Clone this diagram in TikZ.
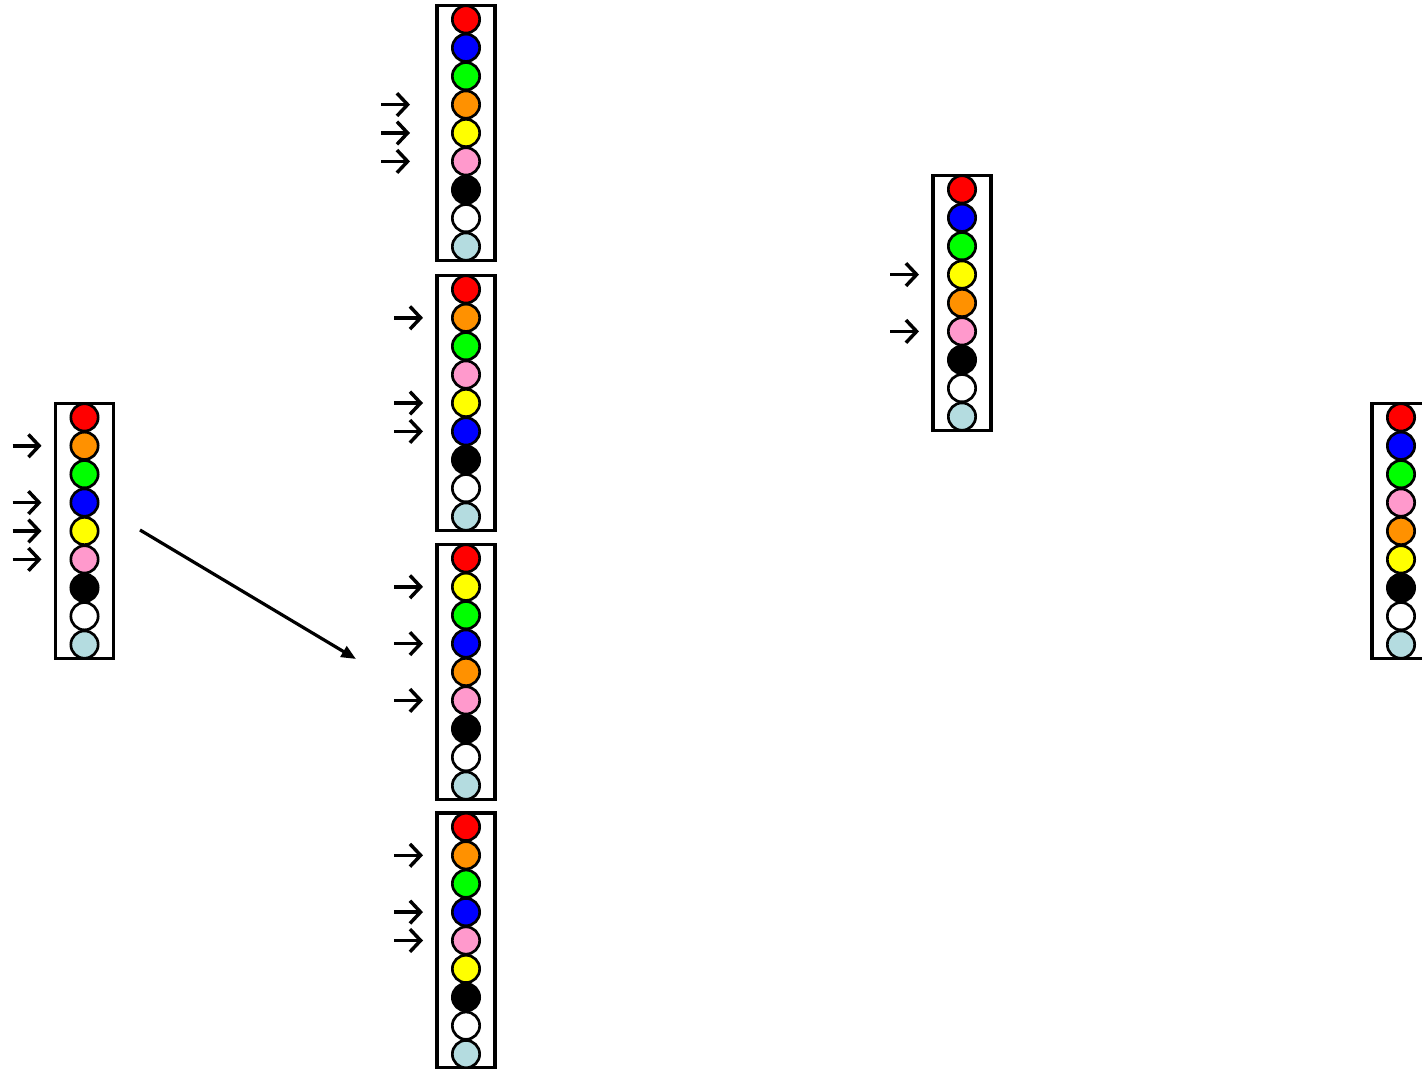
\documentclass[tikz,border=0pt]{standalone}
\usetikzlibrary{arrows.meta,calc}
\definecolor{cred}{RGB}{255,0,0}
\definecolor{cblue}{RGB}{0,0,255}
\definecolor{cgreen}{RGB}{0,255,0}
\definecolor{corange}{RGB}{255,145,0}
\definecolor{cyellow}{RGB}{255,255,0}
\definecolor{cpink}{RGB}{255,153,204}
\definecolor{cblack}{RGB}{0,0,0}
\definecolor{cwhite}{RGB}{255,255,255}
\definecolor{clblue}{RGB}{180,220,224}
\tikzset{
  colbox/.style={draw=black, line width=2.7pt, fill=white, minimum width=43.5pt, minimum height=191pt, inner sep=0pt},
  bead/.style={circle, draw=black, line width=2pt, minimum size=20.5pt, inner sep=0pt},
  pointer/.style={line width=2.6pt, -{Straight Barb[length=8pt,width=17pt,line width=2.6pt]}},
  bigarrow/.style={line width=2.4pt, -{Triangle[length=11pt,width=9pt]}}
}
\newcommand\beadcol[4]{%
  \node[colbox] (#1) at (#2,#3) {};
  \foreach \c [count=\i] in {#4} {
    \node[bead, fill=\c] (#1-\i) at ({#2},{#3+(\i-5)*28.4}) {};
  }
}
\begin{document}
\begin{tikzpicture}[x=0.75pt,y=-0.75pt]
\useasboundingbox (0,0) rectangle (1422,1069);
\clip (0,0) rectangle (1422,1069);
\beadcol{L}{84.5}{531}{cred,corange,cgreen,cblue,cyellow,cpink,cblack,cwhite,clblue}
\beadcol{M1}{466}{133}{cred,cblue,cgreen,corange,cyellow,cpink,cblack,cwhite,clblue}
\beadcol{M2}{466}{403}{cred,corange,cgreen,cpink,cyellow,cblue,cblack,cwhite,clblue}
\beadcol{M3}{466}{672}{cred,cyellow,cgreen,cblue,corange,cpink,cblack,cwhite,clblue}
\beadcol{M4}{466}{940.5}{cred,corange,cgreen,cblue,cpink,cyellow,cblack,cwhite,clblue}
\beadcol{T}{962}{303}{cred,cblue,cgreen,cyellow,corange,cpink,cblack,cwhite,clblue}
\beadcol{R}{1401}{531}{cred,cblue,cgreen,cpink,corange,cyellow,cblack,cwhite,clblue}
\foreach \i in {2,4,5,6} \draw[pointer] ($(L-\i.west)+(-57,0)$) -- ++(29,0);
\foreach \i in {4,5,6} \draw[pointer] ($(M1-\i.west)+(-70,0)$) -- ++(29,0);
\foreach \i in {2,5,6} \draw[pointer] ($(M2-\i.west)+(-57,0)$) -- ++(29,0);
\foreach \i in {2,4,6} \draw[pointer] ($(M3-\i.west)+(-57,0)$) -- ++(29,0);
\foreach \i in {2,4,5} \draw[pointer] ($(M4-\i.west)+(-57,0)$) -- ++(29,0);
\foreach \i in {4,6} \draw[pointer] ($(T-\i.west)+(-57,0)$) -- ++(29,0);
\coordinate (dstart) at (140,530);
\coordinate (dend) at (356,659);
\draw[bigarrow] (dstart) -- (dend);
\end{tikzpicture}
\end{document}
